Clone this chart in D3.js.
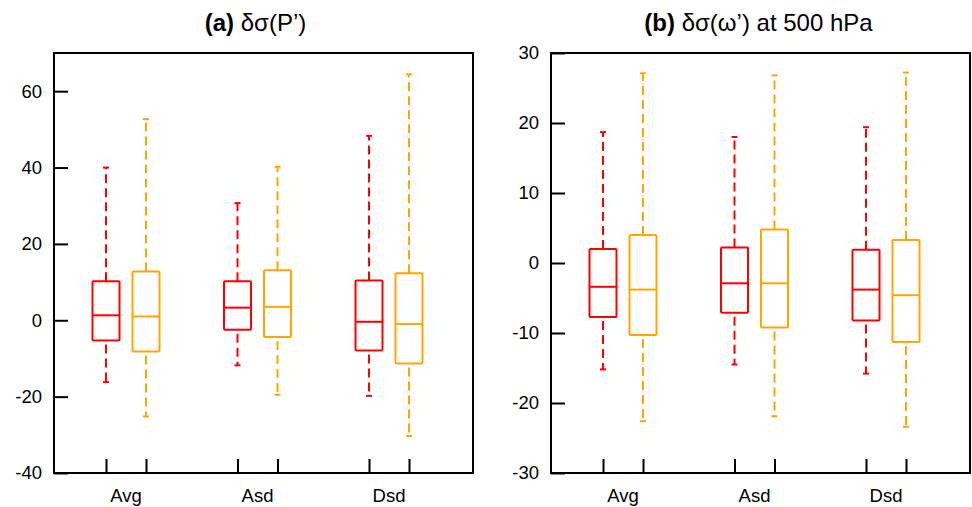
<!DOCTYPE html>
<html>
<head>
<meta charset="utf-8">
<script src="https://cdn.jsdelivr.net/npm/d3@7"></script>
<style>
  body { margin: 0; background: #fff; }
  text { font-family: "Liberation Sans", Arial, Helvetica, sans-serif; fill: #000; }
</style>
</head>
<body>
<div id="chart"></div>
<script>
// box stats: [whisker low, q1, median, q3, whisker high]
var categories = ["Avg", "Asd", "Dsd"]

var precipRed = [[-16.2, -5.3, 1.3, 10.2, 40.0], [-11.8, -2.5, 3.3, 10.2, 30.7], [-19.8, -7.9, -0.4, 10.4, 48.3]]
var precipOrange = [[-25.2, -8.2, 1.0, 12.8, 52.7], [-19.5, -4.4, 3.5, 13.1, 40.2], [-30.3, -11.3, -1.0, 12.3, 64.4]]
var omegaRed = [[-15.2, -7.7, -3.4, 2.0, 18.7], [-14.5, -7.1, -2.9, 2.2, 18.0], [-15.8, -8.2, -3.8, 1.9, 19.4]]
var omegaOrange = [[-22.6, -10.3, -3.8, 4.0, 27.1], [-21.9, -9.2, -2.9, 4.8, 26.8], [-23.4, -11.3, -4.6, 3.3, 27.2]]

var precipTicks = [-40, -20, 0, 20, 40, 60]
var omegaTicks = [-30, -20, -10, 0, 10, 20, 30]

var W = 972, H = 507
var svg = d3.select("#chart").append("svg")
  .attr("width", W)
  .attr("height", H)

var panels = [
  {left: 54, bold: "(a)", rest: " δσ(P’)", titleDx: -8, domain: [-40, 70], ticks: precipTicks, red: precipRed, orange: precipOrange},
  {left: 551, bold: "(b)", rest: " δσ(ω’) at 500 hPa", titleDx: -2, domain: [-30, 30], ticks: omegaTicks, red: omegaRed, orange: omegaOrange}
]

var pw = 419, yTop = 53, yBot = 473
var off = 20, bw = 27

panels.forEach(function(p) {
  var g = svg.append("g").attr("transform", "translate(" + p.left + ",0)")

  var x = d3.scalePoint().domain(categories).range([72, 335])
  var y = d3.scaleLinear().domain(p.domain).range([yBot, yTop])

  // y axis, ticks pointing in
  g.append("g")
    .call(d3.axisLeft(y).tickValues(p.ticks).tickSizeInner(-14).tickSizeOuter(0).tickPadding(12)
      .tickFormat(d => String(d)))
    .call(a => a.select(".domain").remove())
    .call(a => a.selectAll("line").attr("stroke", "#000").attr("stroke-width", 2))
    .call(a => a.selectAll("text").attr("font-size", 18.5).attr("fill", "#000"))

  // x ticks at each box
  var boxPos = []
  categories.forEach(c => { boxPos.push(x(c) - off); boxPos.push(x(c) + off) })
  var xt = d3.scaleLinear().domain([0, pw]).range([0, pw])
  g.append("g")
    .attr("transform", "translate(0," + yBot + ")")
    .call(d3.axisBottom(xt).tickValues(boxPos).tickSizeInner(-14).tickSizeOuter(0).tickFormat(""))
    .call(a => a.select(".domain").remove())
    .call(a => a.selectAll("line").attr("stroke", "#000").attr("stroke-width", 2))

  g.selectAll(".cat")
    .data(categories)
    .enter().append("text")
    .attr("class", "cat")
    .attr("x", d => x(d))
    .attr("y", 501.5)
    .attr("text-anchor", "middle")
    .attr("font-size", 18.5)
    .text(d => d)

  // frame
  g.append("rect")
    .attr("x", 0).attr("y", yTop)
    .attr("width", pw).attr("height", yBot - yTop)
    .attr("fill", "none")
    .attr("stroke", "#000")
    .attr("stroke-width", 2)

  var series = [{vals: p.red, color: "#ff0000", dx: -off}, {vals: p.orange, color: "#ffa500", dx: off}]
  series.forEach(function(s) {
    var b = g.selectAll(null)
      .data(s.vals.map((v, i) => ({v: v, cx: x(categories[i]) + s.dx})))
      .enter().append("g")
      .attr("stroke", s.color)
      .attr("fill", "none")
      .attr("stroke-width", 2)

    // whiskers
    b.append("line")
      .attr("x1", d => d.cx).attr("x2", d => d.cx)
      .attr("y1", d => y(d.v[3])).attr("y2", d => y(d.v[4]))
      .attr("stroke-dasharray", "9,5")
    b.append("line")
      .attr("x1", d => d.cx).attr("x2", d => d.cx)
      .attr("y1", d => y(d.v[1]) + 4).attr("y2", d => y(d.v[0]))
      .attr("stroke-dasharray", "9,5")
    // caps
    b.append("line")
      .attr("x1", d => d.cx - 3).attr("x2", d => d.cx + 3)
      .attr("y1", d => y(d.v[4])).attr("y2", d => y(d.v[4]))
    b.append("line")
      .attr("x1", d => d.cx - 3).attr("x2", d => d.cx + 3)
      .attr("y1", d => y(d.v[0])).attr("y2", d => y(d.v[0]))
    // box
    b.append("rect")
      .attr("x", d => d.cx - bw / 2)
      .attr("y", d => y(d.v[3]))
      .attr("width", bw)
      .attr("height", d => y(d.v[1]) - y(d.v[3]))
      .attr("fill", "#fff")
      .attr("rx", 1)
    // median
    b.append("line")
      .attr("x1", d => d.cx - bw / 2).attr("x2", d => d.cx + bw / 2)
      .attr("y1", d => y(d.v[2])).attr("y2", d => y(d.v[2]))
  })

  // title
  var t = g.append("text")
    .attr("x", pw / 2 + p.titleDx)
    .attr("y", 31)
    .attr("text-anchor", "middle")
    .attr("font-size", 24)
  t.append("tspan").attr("font-weight", "bold").text(p.bold)
  t.append("tspan").text(p.rest)
})
</script>
</body>
</html>
